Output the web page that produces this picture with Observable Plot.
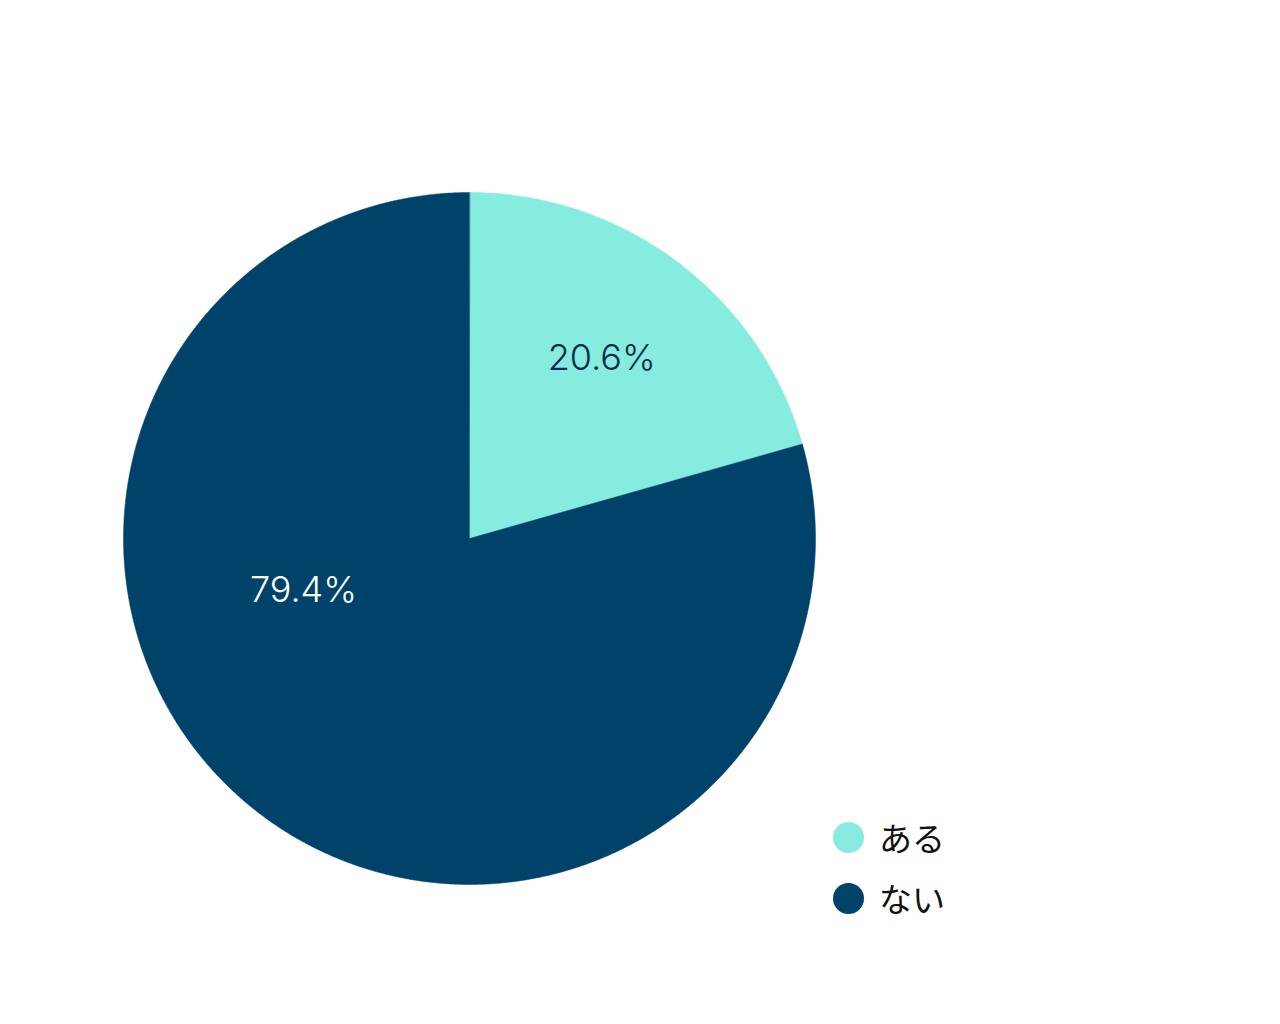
<!DOCTYPE html>
<html>
<head>
<meta charset="utf-8">
<script src="https://cdn.jsdelivr.net/npm/d3@7"></script>
<script src="https://cdn.jsdelivr.net/npm/@observablehq/plot@0.6"></script>
<style>
  html, body { margin: 0; padding: 0; background: #fff; }
  #wrap { position: relative; width: 1280px; height: 1024px; }
  #legend { position: absolute; left: 833px; top: 814px; font-family: "Noto Sans CJK JP", sans-serif; font-weight: 400; font-size: 33px; color: #111; }
  .item { display: flex; align-items: center; height: 46px; margin-bottom: 15px; }
  .sw { width: 31px; height: 31px; border-radius: 50%; margin-right: 15px; }
</style>
</head>
<body>
<div id="wrap"></div>
<script>
const categories = ["ある", "ない"];
const values = [20.6, 79.4];
const labels = ["20.6%", "79.4%"];
const colors = ["#86ECE0", "#00436A"];
const labelColors = ["#0B2A4A", "#FFFFFF"];

// label anchor positions in unit-circle coordinates (layout)
const labelPos = [[0.382, 0.52], [-0.48, -0.15]];

const pie = d3.pie().sort(null).value(d => d)(values);

const slicePts = [];
pie.forEach((p, i) => {
  slicePts.push({cat: categories[i], x: 0, y: 0});
  const n = Math.max(2, Math.ceil((p.endAngle - p.startAngle) / 0.005));
  for (let k = 0; k <= n; k++) {
    const a = p.startAngle + (p.endAngle - p.startAngle) * k / n;
    slicePts.push({cat: categories[i], x: Math.sin(a), y: Math.cos(a)});
  }
});

const labelData = categories.map((c, i) => ({cat: c, text: labels[i], x: labelPos[i][0], y: labelPos[i][1], color: labelColors[i]}));

const chart = Plot.plot({
  width: 1280,
  height: 1024,
  margin: 0,
  x: {domain: [-1, 1], range: [123, 815], axis: null},
  y: {domain: [-1, 1], range: [884, 192], axis: null},
  color: {domain: categories, range: colors},
  style: {background: "#fff"},
  marks: [
    Plot.line(slicePts, {x: "x", y: "y", z: "cat", fill: "cat", stroke: "cat", strokeWidth: 0.5, curve: "linear-closed"}),
    Plot.text(labelData, {x: "x", y: "y", text: "text", fill: d => d.color, fontSize: 36, fontFamily: "Inter, 'Noto Sans', sans-serif", fontWeight: 300, textAnchor: "middle", letterSpacing: "-0.5px"})
  ]
});

const wrap = document.getElementById("wrap");
wrap.appendChild(chart);

const legend = document.createElement("div");
legend.id = "legend";
categories.forEach((c, i) => {
  const item = document.createElement("div");
  item.className = "item";
  const sw = document.createElement("div");
  sw.className = "sw";
  sw.style.background = colors[i];
  const t = document.createElement("span");
  t.textContent = c;
  item.appendChild(sw);
  item.appendChild(t);
  legend.appendChild(item);
});
wrap.appendChild(legend);
</script>
</body>
</html>
